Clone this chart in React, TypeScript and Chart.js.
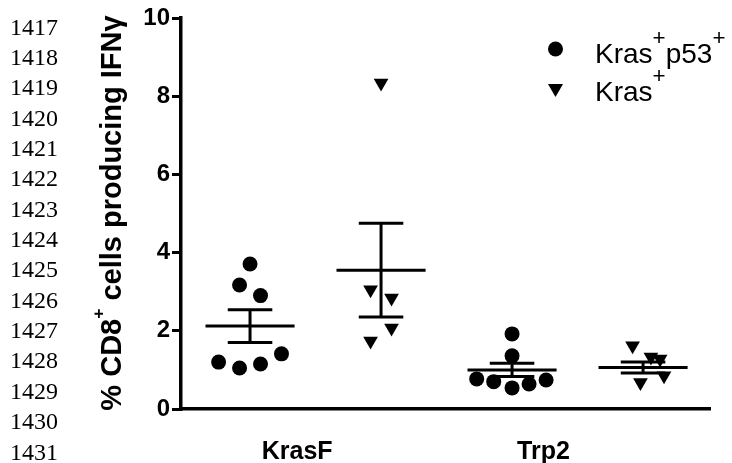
import React, { useEffect, useRef } from "react";
import { Chart, registerables } from "chart.js";
Chart.register(...registerables);

// ---- data ----
const categories = ["KrasF", "Trp2"];
const categoryLabelPos = [1.36, 3.24];
const yTicks = [0, 2, 4, 6, 8, 10];
const lineNumbers = [1417, 1418, 1419, 1420, 1421, 1422, 1423, 1424, 1425, 1426, 1427, 1428, 1429, 1430, 1431];

// group centres on the x scale (KrasF: 1,2 ; Trp2: 3,4)
const krasP53GroupX = [1, 3];
const krasGroupX = [2, 4];

// Kras+p53+ (circles)
const krasP53_KrasF = [3.71, 3.17, 2.9, 1.41, 1.2, 1.05, 1.15];
const krasP53_KrasF_jitter = [0, -0.08, 0.08, 0.24, -0.24, -0.08, 0.08];
const krasP53_Trp2 = [1.92, 1.36, 0.77, 0.7, 0.54, 0.64, 0.74];
const krasP53_Trp2_jitter = [0, 0, -0.27, -0.14, 0, 0.13, 0.26];

// Kras+ (triangles)
const kras_KrasF = [3.05, 2.84, 2.07, 1.74, 8.34];
const kras_KrasF_jitter = [-0.08, 0.08, 0.08, -0.08, 0];
const kras_Trp2 = [1.62, 1.33, 1.28, 0.68, 0.85];
const kras_Trp2_jitter = [-0.08, 0.06, 0.13, -0.02, 0.16];

// mean ± SEM, order: KrasF p53, KrasF kras, Trp2 p53, Trp2 kras
const groupX = [1, 2, 3, 4];
const means = [2.12, 3.55, 1.0, 1.06];
const sems = [0.42, 1.2, 0.17, 0.14];

const MEAN_HALF = 0.34;
const CAP_HALF = 0.17;

const errorBarPlugin = {
  id: "errorBars",
  beforeDatasetsDraw(chart: any) {
    const { ctx, scales } = chart;
    const x = scales.x;
    const y = scales.y;
    ctx.save();
    ctx.strokeStyle = "#000";
    ctx.lineWidth = 3;
    ctx.lineCap = "butt";
    groupX.forEach((gx, i) => {
      const m = means[i];
      const s = sems[i];
      const xc = x.getPixelForValue(gx);
      const ym = y.getPixelForValue(m);
      const yu = y.getPixelForValue(m + s);
      const yl = y.getPixelForValue(m - s);
      ctx.beginPath();
      ctx.moveTo(x.getPixelForValue(gx - MEAN_HALF), ym);
      ctx.lineTo(x.getPixelForValue(gx + MEAN_HALF), ym);
      ctx.moveTo(x.getPixelForValue(gx - CAP_HALF), yu);
      ctx.lineTo(x.getPixelForValue(gx + CAP_HALF), yu);
      ctx.moveTo(x.getPixelForValue(gx - CAP_HALF), yl);
      ctx.lineTo(x.getPixelForValue(gx + CAP_HALF), yl);
      ctx.moveTo(xc, yu);
      ctx.lineTo(xc, yl);
      ctx.stroke();
    });
    ctx.restore();
  },
};

function pts(vals: number[], jit: number[], gx: number) {
  return vals.map((v, i) => ({ x: gx + jit[i], y: v }));
}

export default function App() {
  const ref = useRef<HTMLCanvasElement | null>(null);
  useEffect(() => {
    if (!ref.current) return;
    Chart.defaults.font.family = "'Liberation Sans', Arial, sans-serif";
    const chart = new Chart(ref.current, {
      type: "scatter",
      data: {
        datasets: [
          {
            label: "Kras+p53+",
            data: [
              ...pts(krasP53_KrasF, krasP53_KrasF_jitter, krasP53GroupX[0]),
              ...pts(krasP53_Trp2, krasP53_Trp2_jitter, krasP53GroupX[1]),
            ],
            pointStyle: "circle",
            pointRadius: 7.5,
            backgroundColor: "#000",
            borderColor: "#000",
            borderWidth: 0,
          },
          {
            label: "Kras+",
            data: [
              ...pts(kras_KrasF, kras_KrasF_jitter, krasGroupX[0]),
              ...pts(kras_Trp2, kras_Trp2_jitter, krasGroupX[1]),
            ],
            pointStyle: "triangle",
            rotation: 180,
            pointRadius: 8.5,
            backgroundColor: "#000",
            borderColor: "#000",
            borderWidth: 0,
          } as any,
        ],
      },
      options: {
        animation: false,
        responsive: false,
        events: [],
        layout: { padding: { top: 18, right: 22, left: 0, bottom: 0 } },
        plugins: { legend: { display: false }, tooltip: { enabled: false } },
        scales: {
          x: {
            type: "linear",
            min: 0.473,
            max: 4.511,
            grid: { display: false, drawTicks: false },
            border: { display: true, color: "#000", width: 3.5 },
            afterBuildTicks: (scale: any) => {
              scale.ticks = categoryLabelPos.map((v) => ({ value: v }));
            },
            afterFit: (scale: any) => {
              scale.height = 54;
            },
            ticks: {
              autoSkip: false,
              maxRotation: 0,
              padding: 28,
              color: "#000",
              font: { size: 25, weight: "bold" },
              callback: (v: any) => {
                const i = categoryLabelPos.indexOf(Number(v));
                return i >= 0 ? categories[i] : "";
              },
            },
          },
          y: {
            min: 0,
            max: 10,
            afterBuildTicks: (scale: any) => {
              scale.ticks = yTicks.map((v) => ({ value: v }));
            },
            afterFit: (scale: any) => {
              scale.width = 181;
            },
            grid: {
              display: true,
              drawOnChartArea: false,
              drawTicks: true,
              tickLength: 9,
              lineWidth: 3,
              color: "#000",
            },
            border: { display: true, color: "#000", width: 3.5 },
            ticks: {
              padding: 2,
              color: "#000",
              font: { size: 24, weight: "bold" },
            },
          },
        },
      },
      plugins: [errorBarPlugin],
    } as any);
    return () => chart.destroy();
  }, []);

  const legendFont = "28px 'Liberation Sans', Arial, sans-serif";
  const supStyle: React.CSSProperties = { fontSize: "0.8em", position: "relative", top: "-0.8em" };

  return (
    <div style={{ position: "absolute", left: 0, top: 0, width: 732, height: 463, background: "#fff", overflow: "hidden" }}>
      <canvas ref={ref} width={732} height={463} style={{ position: "absolute", left: 0, top: 0 }} />
      {/* line numbers */}
      <div style={{ position: "absolute", left: 10, top: 11.5, font: "24px 'Liberation Serif', 'Times New Roman', serif", lineHeight: "30.36px", color: "#000" }}>
        {lineNumbers.map((n) => (
          <div key={n}>{n}</div>
        ))}
      </div>
      {/* y axis title */}
      <div
        style={{
          position: "absolute",
          left: 113,
          top: 213,
          transform: "translate(-50%, -50%) rotate(-90deg)",
          whiteSpace: "nowrap",
          font: "bold 29px 'Liberation Sans', Arial, sans-serif",
          lineHeight: "33px",
          color: "#000",
        }}
      >
        % CD8<span style={{ fontSize: "0.6em", position: "relative", top: "-1.0em" }}>+</span> cells producing IFNγ
      </div>
      {/* legend */}
      <svg width={732} height={463} style={{ position: "absolute", left: 0, top: 0 }}>
        <circle cx={555.5} cy={49} r={7.5} fill="#000" />
        <polygon points="548,84 563,84 555.5,97" fill="#000" />
      </svg>
      <div style={{ position: "absolute", left: 595, top: 37.5, font: legendFont, lineHeight: "32px", whiteSpace: "nowrap", color: "#000" }}>
        Kras<span style={supStyle}>+</span>p53<span style={supStyle}>+</span>
      </div>
      <div style={{ position: "absolute", left: 595, top: 75.5, font: legendFont, lineHeight: "32px", whiteSpace: "nowrap", color: "#000" }}>
        Kras<span style={supStyle}>+</span>
      </div>
    </div>
  );
}
